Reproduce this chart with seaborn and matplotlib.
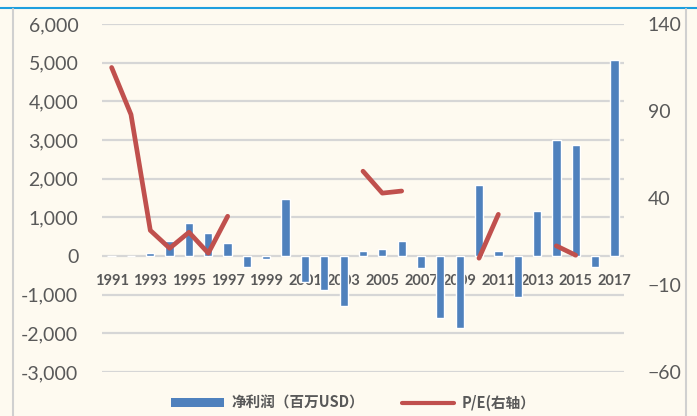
import matplotlib.pyplot as plt
import matplotlib.ticker as mticker
from matplotlib.lines import Line2D
from matplotlib.patches import Patch
import numpy as np
import pandas as pd
import seaborn as sns

# Data
years = [str(y) for y in range(1991, 2018)]
net_profit = [0, 0, 70, 390, 850, 590, 335, -275, -70, 1470,
              -680, -880, -1290, 130, 180, 390, -310, -1600, -1850, 1830,
              130, -1050, 1160, 3010, 2860, -275, 5070]
pe_ratio = [115, 88, 21.4, 11.1, 20.3, 8.3, 29.5, np.nan, np.nan, np.nan,
            np.nan, np.nan, np.nan, 55.4, 42.8, 44, np.nan, np.nan, np.nan, 5.4,
            30.6, np.nan, np.nan, 12.5, 7.1, np.nan, np.nan]
left_ticks = [-3000, -2000, -1000, 0, 1000, 2000, 3000, 4000, 5000, 6000]
right_ticks = [-60, -10, 40, 90, 140]
bar_label = '净利润（百万USD）'
line_label = 'P/E(右轴）'

bar_color = '#4F81BD'
line_color = '#C0504D'
bg = '#FEFAF0'
text_color = '#595959'

sns.set_style('white')
plt.rcParams['font.family'] = ['Lato', 'DejaVu Sans']

df = pd.DataFrame({'year': years, 'profit': net_profit, 'pe': pe_ratio})

fig = plt.figure(figsize=(6.97, 4.16), dpi=100)
fig.patch.set_facecolor(bg)
ax = fig.add_axes([0.1463, 0.1058, 0.749, 0.8365])
ax.set_facecolor(bg)

sns.barplot(data=df, x='year', y='profit', color=bar_color, saturation=1,
            width=0.43, ax=ax, zorder=2)
ax.set_ylim(-3000, 6000)
ax.set_yticks(left_ticks)
ax.yaxis.set_major_formatter(mticker.FuncFormatter(lambda v, p: f'{int(v):,}'))
ax.grid(axis='y', color='#D6D6D6', linewidth=1.6)
ax.set_axisbelow(True)
ax.set_xlim(-0.5, len(years) - 0.5)
ax.set_xlabel('')
ax.set_ylabel('')
for s in ax.spines.values():
    s.set_visible(False)
ax.spines['bottom'].set_position(('data', 0))
ax.set_xticks(range(0, len(years), 2))
ax.set_xticklabels(years[::2], fontweight='bold', fontsize=10.5, color=text_color)
ax.tick_params(axis='x', length=0, pad=13)
ax.tick_params(axis='y', length=0, pad=17, labelsize=14, labelcolor=text_color)

# P/E on the right axis, drawn segment by segment so gaps stay open
ax2 = ax.twinx()
pos = np.arange(len(years))
pe = df['pe'].to_numpy()
valid = ~np.isnan(pe)
start = None
for i in range(len(pe) + 1):
    ok = i < len(pe) and valid[i]
    if ok and start is None:
        start = i
    elif not ok and start is not None:
        sns.lineplot(x=pos[start:i], y=pe[start:i], color=line_color,
                     linewidth=3.4, ax=ax2, legend=False)
        start = None
ax2.set_ylim(-60, 140)
ax2.set_yticks(right_ticks)
ax2.set_ylabel('')
for s in ax2.spines.values():
    s.set_visible(False)
ax2.tick_params(axis='y', length=0, pad=17, labelsize=14, labelcolor=text_color)

# frame lines
fig.add_artist(Line2D([0, 1], [0.981, 0.981], color='#1E9FDE', linewidth=1.5,
                      transform=fig.transFigure))
fig.add_artist(Line2D([0.0187, 0.0187], [0, 0.979], color='#D0D0D0', linewidth=1.5,
                      transform=fig.transFigure))
fig.add_artist(Line2D([0.984, 0.984], [0, 0.979], color='#D0D0D0', linewidth=1.5,
                      transform=fig.transFigure))

handles = [Patch(facecolor=bar_color, edgecolor='none'),
           Line2D([], [], color=line_color, linewidth=3)]
fig.legend(handles, [bar_label, line_label], loc='center', ncol=2,
           bbox_to_anchor=(0.507, 0.031), frameon=False, handlelength=3.6,
           handleheight=0.55, columnspacing=2.6, handletextpad=0.5,
           prop={'family': ['Noto Sans CJK SC', 'DejaVu Sans'], 'size': 10.5,
                 'weight': 'bold'},
           labelcolor=text_color)

fig.savefig('out.png', dpi=100, facecolor=bg)
